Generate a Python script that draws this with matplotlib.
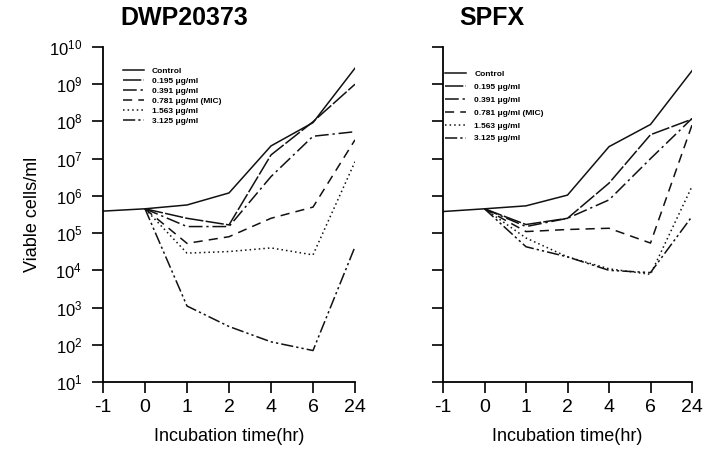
import matplotlib
matplotlib.use('Agg')
import matplotlib.pyplot as plt

plt.rcParams['font.family'] = ['Liberation Sans', 'DejaVu Sans']
plt.rcParams['mathtext.default'] = 'regular'

# x categories (hours) shown at equal spacing
hours = ['-1', '0', '1', '2', '4', '6', '24']

labels = ['Control', '0.195 \u03bcg/ml', '0.391 \u03bcg/ml', '0.781 \u03bcg/ml (MIC)',
          '1.563 \u03bcg/ml', '3.125 \u03bcg/ml']

# DWP20373 viable counts (cells/ml); control includes the -1 h point
dwp_control = [3.9e5, 4.5e5, 5.7e5, 1.2e6, 2.2e7, 9.3e7, 2.7e9]
dwp_0195 = [4.5e5, 2.5e5, 1.66e5, 1.26e7, 9.8e7, 1.0e9]
dwp_0391 = [4.5e5, 1.5e5, 1.5e5, 3.3e6, 4.0e7, 5.3e7]
dwp_0781 = [4.5e5, 5.3e4, 8.0e4, 2.5e5, 5.0e5, 3.2e7]
dwp_1563 = [4.5e5, 2.9e4, 3.2e4, 4.0e4, 2.6e4, 8.3e6]
dwp_3125 = [4.5e5, 1.1e3, 310, 120, 70, 4.3e4]

# SPFX viable counts (cells/ml)
spfx_control = [3.8e5, 4.5e5, 5.4e5, 1.05e6, 2.1e7, 8.3e7, 2.3e9]
spfx_0195 = [4.5e5, 1.7e5, 2.5e5, 2.2e6, 4.4e7, 1.15e8]
spfx_0391 = [4.5e5, 1.5e5, 2.5e5, 7.8e5, 1.0e7, 1.2e8]
spfx_0781 = [4.5e5, 1.1e5, 1.25e5, 1.35e5, 5.4e4, 8.0e7]
spfx_1563 = [4.5e5, 7.4e4, 2.3e4, 1.1e4, 7.8e3, 1.8e6]
spfx_3125 = [4.5e5, 4.3e4, 2.3e4, 1.0e4, 8.7e3, 2.8e5]

styles = ['-', (0, (12, 1.5)), (0, (9, 2.5, 1.5, 2.5)), (0, (6, 4)),
          (0, (1, 2)), (0, (8, 2, 1.5, 2, 1.5, 2))]

fig = plt.figure(figsize=(7.03, 4.63), dpi=100)
ax1 = fig.add_axes([103/703, 81/463, 252/703, 335/463])
ax2 = fig.add_axes([443/703, 81/463, 249/703, 335/463])

panels = [
    (ax1, [dwp_control, dwp_0195, dwp_0391, dwp_0781, dwp_1563, dwp_3125], (0.079, 0.94), 0.25),
    (ax2, [spfx_control, spfx_0195, spfx_0391, spfx_0781, spfx_1563, spfx_3125], (0.008, 0.93), 0.6),
]

for ax, series, anchor, spacing in panels:
    for i, vals in enumerate(series):
        xs = list(range(len(hours) - len(vals), len(hours)))
        ax.plot(xs, vals, color='#111111', lw=1.1, linestyle=styles[i], label=labels[i])
    ax.set_yscale('log')
    ax.set_ylim(1e1, 1e10)
    ax.set_xlim(0, 6)
    ax.set_yticks([10.0**k for k in range(1, 11)])
    ax.minorticks_off()
    ax.set_xticks(range(len(hours)))
    ax.set_xticklabels(hours)
    ax.spines['top'].set_visible(False)
    ax.spines['right'].set_visible(False)
    ax.spines['left'].set_linewidth(1.3)
    ax.spines['bottom'].set_linewidth(1.3)
    ax.tick_params(axis='x', direction='out', length=8, width=1.2, labelsize=14, pad=4)
    ax.tick_params(axis='y', direction='out', length=8, width=1.2, labelsize=12, pad=7)
    ax.set_xlabel('Incubation time(hr)', fontsize=13, labelpad=9)
    ax.legend(loc='upper left', bbox_to_anchor=anchor, frameon=False,
              prop={'weight': 'bold', 'size': 6}, handlelength=2.5, handletextpad=1.0,
              labelspacing=spacing, borderaxespad=0, borderpad=0)

ax1.set_yticklabels(['$10^{%d}$' % k for k in range(1, 11)])
ax2.set_yticklabels([])
ax1.set_ylabel('Viable cells/ml', fontsize=13, labelpad=6)

fig.text(184/703, 1 - 18/463, 'DWP20373', fontsize=18, fontweight='bold', ha='center', va='center')
fig.text(492/703, 1 - 18/463, 'SPFX', fontsize=18, fontweight='bold', ha='center', va='center')

fig.savefig('out.png', dpi=100)
